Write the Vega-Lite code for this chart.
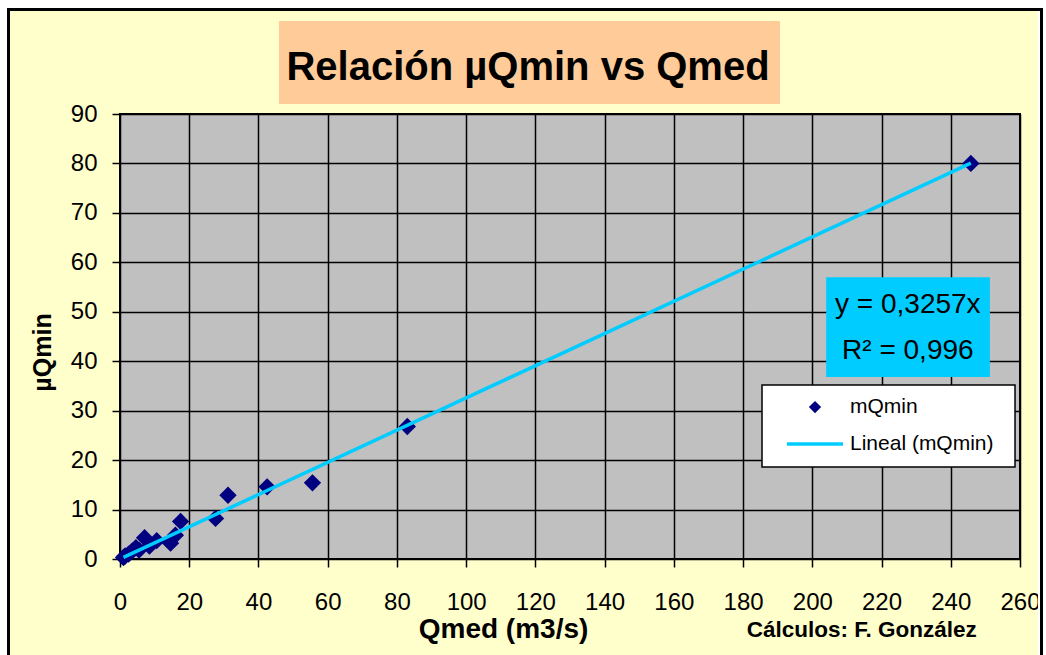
{
  "$schema": "https://vega.github.io/schema/vega-lite/v6.json",
  "width": 900,
  "height": 445,
  "autosize": {"type": "none"},
  "padding": {"left": 120, "top": 114, "right": 26, "bottom": 96},
  "background": "#FFFFCC",
  "config": {
    "view": {"fill": "#C0C0C0", "stroke": "black", "strokeWidth": 2},
    "axis": {
      "grid": true, "gridColor": "black", "gridWidth": 1.5, "gridOpacity": 1,
      "domain": false, "tickColor": "black", "tickSize": 8, "tickWidth": 1.5,
      "labelFont": "Liberation Sans", "labelFontSize": 24, "labelColor": "black",
      "labelOverlap": false, "labelFlush": false,
      "titleFont": "Liberation Sans", "titleFontWeight": "bold", "titleColor": "black"
    }
  },
  "datasets": {
    "points": [
      {"Qmed": 1.0, "mQmin": 0.3, "series": "mQmin"},
      {"Qmed": 1.5, "mQmin": 0.6, "series": "mQmin"},
      {"Qmed": 2.5, "mQmin": 1.0, "series": "mQmin"},
      {"Qmed": 3.5, "mQmin": 1.6, "series": "mQmin"},
      {"Qmed": 4.6, "mQmin": 2.3, "series": "mQmin"},
      {"Qmed": 5.5, "mQmin": 1.8, "series": "mQmin"},
      {"Qmed": 7.1, "mQmin": 4.3, "series": "mQmin"},
      {"Qmed": 8.5, "mQmin": 2.6, "series": "mQmin"},
      {"Qmed": 10.6, "mQmin": 3.7, "series": "mQmin"},
      {"Qmed": 14.6, "mQmin": 3.2, "series": "mQmin"},
      {"Qmed": 16.0, "mQmin": 4.8, "series": "mQmin"},
      {"Qmed": 17.5, "mQmin": 7.6, "series": "mQmin"},
      {"Qmed": 27.6, "mQmin": 8.2, "series": "mQmin"},
      {"Qmed": 31.2, "mQmin": 12.9, "series": "mQmin"},
      {"Qmed": 42.5, "mQmin": 14.6, "series": "mQmin"},
      {"Qmed": 55.6, "mQmin": 15.4, "series": "mQmin"},
      {"Qmed": 83.0, "mQmin": 26.8, "series": "mQmin"},
      {"Qmed": 245.8, "mQmin": 80.0, "series": "mQmin"}
    ],
    "trend": [
      {"Qmed": 1.0, "mQmin": 0.33, "series": "Lineal (mQmin)"},
      {"Qmed": 245.8, "mQmin": 80.06, "series": "Lineal (mQmin)"}
    ],
    "one": [{}]
  },
  "layer": [
    {
      "data": {"name": "one"},
      "mark": {"type": "rect", "filled": false, "stroke": "white", "strokeWidth": 16},
      "encoding": {
        "x": {"datum": -34.67, "type": "quantitative", "scale": {"domain": [0, 260], "nice": false},
              "axis": {"values": [0,20,40,60,80,100,120,140,160,180,200,220,240,260], "title": "Qmed (m3/s)", "titleFontSize": 28, "labelPadding": 23, "titleX": 383, "titleY": 78, "titleAlign": "center", "titleBaseline": "alphabetic"}},
        "x2": {"datum": 267.51},
        "y": {"datum": 113.06, "type": "quantitative", "scale": {"domain": [0, 90], "nice": false},
              "axis": {"values": [0,10,20,30,40,50,60,70,80,90], "title": "µQmin", "titleFontSize": 25, "labelPadding": 15, "titleX": -70, "titleY": 238, "titleAlign": "center", "titleBaseline": "alphabetic", "titleAngle": -90}},
        "y2": {"datum": -28.5}
      }
    },
    {
      "data": {"name": "one"},
      "mark": {"type": "rect", "filled": false, "stroke": "black", "strokeWidth": 3},
      "encoding": {
        "x": {"datum": -32.21, "type": "quantitative"},
        "x2": {"datum": 266.21},
        "y": {"datum": 111.13, "type": "quantitative"},
        "y2": {"datum": -28.5}
      }
    },
    {
      "data": {"name": "one"},
      "mark": {"type": "rect", "fill": "#FFCC99"},
      "encoding": {
        "x": {"datum": 45.93, "type": "quantitative"},
        "x2": {"datum": 190.67},
        "y": {"datum": 108.81, "type": "quantitative"},
        "y2": {"datum": 92.02}
      }
    },
    {
      "data": {"name": "one"},
      "mark": {"type": "text", "text": "Relación µQmin vs Qmed", "font": "Liberation Sans", "fontWeight": "bold", "fontSize": 40, "align": "center", "baseline": "alphabetic", "color": "black"},
      "encoding": {
        "x": {"datum": 117.87, "type": "quantitative"},
        "y": {"datum": 96.88, "type": "quantitative"}
      }
    },
    {
      "data": {"name": "one"},
      "mark": {"type": "text", "text": "Cálculos: F. González", "font": "Liberation Sans", "fontWeight": "bold", "fontSize": 22.5, "align": "left", "baseline": "alphabetic", "color": "black"},
      "encoding": {
        "x": {"datum": 181.05, "type": "quantitative"},
        "y": {"datum": -15.7, "type": "quantitative"}
      }
    },
    {
      "data": {"name": "points"},
      "mark": {"type": "point", "shape": "diamond", "filled": true, "size": 300, "opacity": 1},
      "encoding": {
        "x": {"field": "Qmed", "type": "quantitative"},
        "y": {"field": "mQmin", "type": "quantitative"},
        "color": {
          "field": "series", "type": "nominal",
          "scale": {"domain": ["mQmin", "Lineal (mQmin)"], "range": ["#000080", "#00CCFF"]},
          "legend": null
        }
      }
    },
    {
      "data": {"name": "trend"},
      "mark": {"type": "line", "strokeWidth": 3.5},
      "encoding": {
        "x": {"field": "Qmed", "type": "quantitative"},
        "y": {"field": "mQmin", "type": "quantitative"},
        "color": {"field": "series", "type": "nominal", "legend": null}
      }
    },
    {
      "data": {"name": "one"},
      "mark": {"type": "rect", "fill": "#00CCFF"},
      "encoding": {
        "x": {"datum": 204.0, "type": "quantitative"},
        "x2": {"datum": 251.3},
        "y": {"datum": 57.0, "type": "quantitative"},
        "y2": {"datum": 36.8}
      }
    },
    {
      "data": {"name": "one"},
      "mark": {"type": "text", "text": "y = 0,3257x", "font": "Liberation Sans", "fontSize": 28, "align": "center", "baseline": "alphabetic", "color": "black"},
      "encoding": {
        "x": {"datum": 227.6, "type": "quantitative"},
        "y": {"datum": 49.8, "type": "quantitative"}
      }
    },
    {
      "data": {"name": "one"},
      "mark": {"type": "text", "text": "R² = 0,996", "font": "Liberation Sans", "fontSize": 28, "align": "center", "baseline": "alphabetic", "color": "black"},
      "encoding": {
        "x": {"datum": 227.6, "type": "quantitative"},
        "y": {"datum": 40.5, "type": "quantitative"}
      }
    },
    {
      "data": {"name": "one"},
      "mark": {"type": "rect", "fill": "white", "stroke": "black", "strokeWidth": 1.5},
      "encoding": {
        "x": {"datum": 185.47, "type": "quantitative"},
        "x2": {"datum": 258.56},
        "y": {"datum": 35.19, "type": "quantitative"},
        "y2": {"datum": 18.61}
      }
    },
    {
      "data": {"name": "one"},
      "mark": {"type": "point", "shape": "diamond", "filled": true, "size": 150, "opacity": 1, "color": "#000080"},
      "encoding": {
        "x": {"datum": 200.78, "type": "quantitative"},
        "y": {"datum": 30.74, "type": "quantitative"}
      }
    },
    {
      "data": {"name": "one"},
      "mark": {"type": "rule", "color": "#00CCFF", "strokeWidth": 3.5},
      "encoding": {
        "x": {"datum": 192.69, "type": "quantitative"},
        "x2": {"datum": 208.87},
        "y": {"datum": 23.26, "type": "quantitative"}
      }
    },
    {
      "data": {"name": "one"},
      "mark": {"type": "text", "text": "mQmin", "font": "Liberation Sans", "fontSize": 21, "align": "left", "baseline": "middle", "color": "black"},
      "encoding": {
        "x": {"datum": 210.89, "type": "quantitative"},
        "y": {"datum": 30.74, "type": "quantitative"}
      }
    },
    {
      "data": {"name": "one"},
      "mark": {"type": "text", "text": "Lineal (mQmin)", "font": "Liberation Sans", "fontSize": 21, "align": "left", "baseline": "middle", "color": "black"},
      "encoding": {
        "x": {"datum": 210.89, "type": "quantitative"},
        "y": {"datum": 23.26, "type": "quantitative"}
      }
    }
  ]
}
